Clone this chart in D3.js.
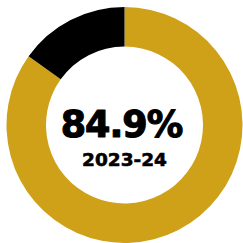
<!DOCTYPE html>
<html>
<head>
<meta charset="utf-8">
<script src="https://cdn.jsdelivr.net/npm/d3@7"></script>
<style>
  html, body { margin: 0; padding: 0; background: #fff; }
  svg { display: block; }
</style>
</head>
<body>
<div id="chart"></div>
<script>
// data
const segments = ['Completed', 'Remaining'];
const values = [84.9, 15.1];
const colors = ['#CFA118', '#000000'];
const mainLabel = '84.9%';
const subLabel = '2023-24';

const width = 243;
const height = 243;
const center = [124.5, 125];
const outerRadius = 118;
const innerRadius = 78.5;

const svg = d3.select('#chart').append('svg')
    .attr('width', width)
    .attr('height', height);

const g = svg.append('g')
    .attr('transform', `translate(${center})`);

const pie = d3.pie().sort(null).value(d => d.value);
const arc = d3.arc().innerRadius(innerRadius).outerRadius(outerRadius);

const data = segments.map((s, i) => ({name: s, value: values[i]}));

const color = d3.scaleOrdinal().domain(segments).range(colors);

g.selectAll('path.slice')
    .data(pie(data))
    .join('path')
    .classed('slice', true)
    .attr('d', arc)
    .attr('fill', d => color(d.data.name));

// center labels, stroked a bit to look heavier
g.append('text')
    .attr('x', -3)
    .attr('y', 12)
    .attr('text-anchor', 'middle')
    .style('font-family', '"DejaVu Sans", sans-serif')
    .style('font-weight', 'bold')
    .style('font-size', '36.5px')
    .style('letter-spacing', '-1px')
    .attr('fill', '#000')
    .attr('stroke', '#000')
    .attr('stroke-width', 1.1)
    .attr('stroke-linejoin', 'round')
    .text(mainLabel);

g.append('text')
    .attr('x', 0)
    .attr('y', 40.5)
    .attr('text-anchor', 'middle')
    .style('font-family', '"DejaVu Sans", sans-serif')
    .style('font-weight', 'bold')
    .style('font-size', '18.5px')
    .attr('fill', '#000')
    .attr('stroke', '#000')
    .attr('stroke-width', 0.6)
    .attr('stroke-linejoin', 'round')
    .text(subLabel);
</script>
</body>
</html>
